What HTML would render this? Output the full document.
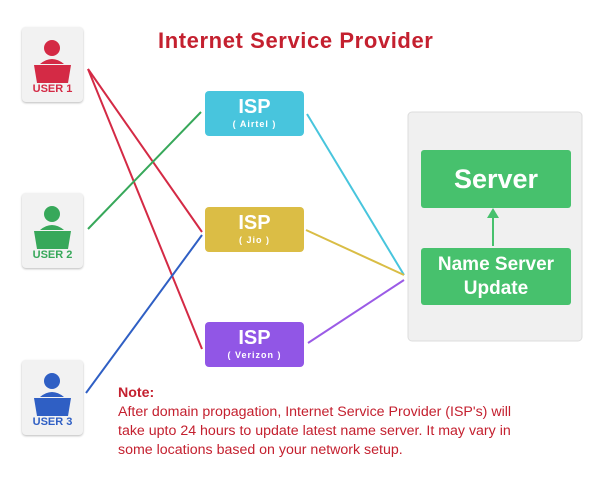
<!DOCTYPE html>
<html><head><style>
body{margin:0;width:600px;height:480px;background:#fff;position:relative;font-family:"Liberation Sans",sans-serif;overflow:hidden}
.u{position:absolute;left:22px;width:61px;height:75px;background:#f2f2f2;border-radius:4px;box-shadow:0 1px 2px #bbb}
.u span{position:absolute;bottom:7px;width:100%;text-align:center;font-weight:bold;font-size:11px}
.isp{position:absolute;left:205px;width:99px;height:45px;border-radius:4px;color:#fff;text-align:center;font-weight:bold}
.isp b{display:block;font-size:20px;margin-top:6px;line-height:20px}
.isp i{display:block;font-style:normal;font-size:9px;margin-top:2px;letter-spacing:1px}
.g{position:absolute;left:421px;width:150px;background:#47c16d;border-radius:3px;color:#fff;font-weight:bold;text-align:center}
</style></head><body>
<svg width="600" height="480" style="position:absolute;left:0;top:0">
<g stroke-width="2" fill="none">
<line x1="88" y1="69" x2="202" y2="232" stroke="#d42a45"/>
<line x1="88" y1="69" x2="202" y2="349" stroke="#d42a45"/>
<line x1="88" y1="229" x2="201" y2="112" stroke="#37a85a"/>
<line x1="86" y1="393" x2="202" y2="235" stroke="#2f5fc4"/>
<line x1="307" y1="114" x2="404" y2="275" stroke="#48c5dd"/>
<line x1="306" y1="230" x2="404" y2="275" stroke="#d9bd45"/>
<line x1="308" y1="343" x2="404" y2="280" stroke="#9b5be6"/>
</g>
<rect x="408" y="112" width="174" height="229" rx="4" fill="#f0f0f0" stroke="#ddd"/>
<line x1="493" y1="246" x2="493" y2="216" stroke="#47c16d" stroke-width="2"/>
<polygon points="487,218 499,218 493,208" fill="#47c16d"/>
</svg>
<div style="position:absolute;left:158px;top:28px;color:#c4202f;font-weight:bold;font-size:22px;letter-spacing:0.6px">Internet Service Provider</div>

<div class="u" style="top:27px"><svg width="61" height="60" style="position:absolute;left:0;top:0"><g fill="#d42a45"><circle cx="30" cy="21" r="8"/><path d="M18 37 Q30 27 42 37Z"/><path d="M12 38 H49 L46 56 H15Z"/></g></svg><span style="color:#d42a45">USER 1</span></div>
<div class="u" style="top:193px"><svg width="61" height="60" style="position:absolute;left:0;top:0"><g fill="#37a85a"><circle cx="30" cy="21" r="8"/><path d="M18 37 Q30 27 42 37Z"/><path d="M12 38 H49 L46 56 H15Z"/></g></svg><span style="color:#37a85a">USER 2</span></div>
<div class="u" style="top:360px"><svg width="61" height="60" style="position:absolute;left:0;top:0"><g fill="#2f5fc4"><circle cx="30" cy="21" r="8"/><path d="M18 37 Q30 27 42 37Z"/><path d="M12 38 H49 L46 56 H15Z"/></g></svg><span style="color:#2f5fc4">USER 3</span></div>

<div class="isp" style="top:91px;background:#48c5dd"><b>ISP</b><i>( Airtel )</i></div>
<div class="isp" style="top:207px;background:#dbbd45"><b>ISP</b><i>( Jio )</i></div>
<div class="isp" style="top:322px;background:#9156e6"><b>ISP</b><i>( Verizon )</i></div>

<div class="g" style="top:150px;height:58px;line-height:58px;font-size:27px">Server</div>
<div class="g" style="top:248px;height:57px;font-size:19px;line-height:24px;padding-top:5px;box-sizing:border-box">Name Server<br>Update</div>

<div style="position:absolute;left:118px;top:384px;color:#c4202f;font-size:14.2px;line-height:19px"><b>Note:</b><br>After domain propagation, Internet Service Provider (ISP's) will<br>take upto 24 hours to update latest name server. It may vary in<br>some locations based on your network setup.</div>
</body></html>
